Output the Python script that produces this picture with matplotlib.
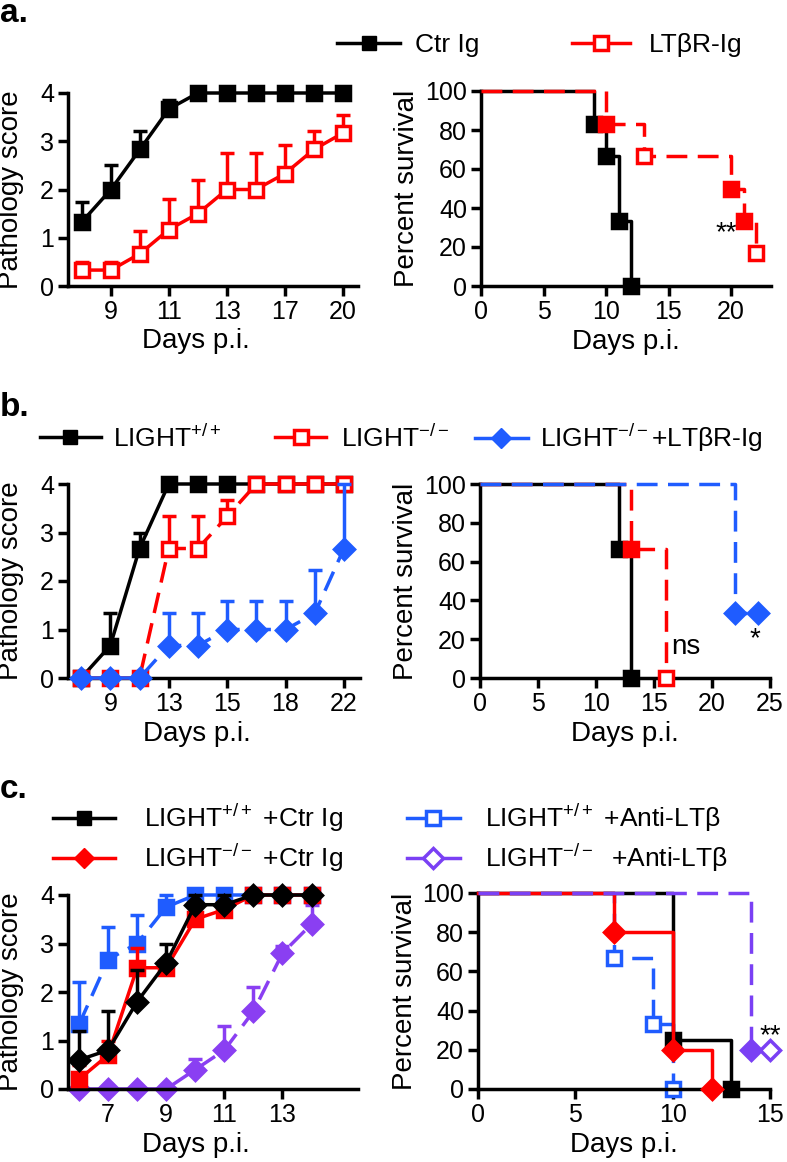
import numpy as np
import matplotlib
matplotlib.use("Agg")
import matplotlib.pyplot as plt
from matplotlib.lines import Line2D

plt.rcParams['font.family'] = ['Liberation Sans', 'DejaVu Sans']
plt.rcParams['mathtext.fontset'] = 'custom'
plt.rcParams['mathtext.rm'] = 'Liberation Sans'
plt.rcParams['mathtext.it'] = 'Liberation Sans:italic'
plt.rcParams['mathtext.bf'] = 'Liberation Sans:bold'

BLACK = 'black'
RED = '#ff0000'
BLUE = '#1f5cff'
PURPLE = '#8a3ff2'
PURPLE_KM = '#7a40f4'
DASH = (0, (6, 3))
LW = 2.5
MS = 10

# ---- panel a ----
a_days = [8, 9, 10, 11, 12, 13, 15, 17, 18, 20]
a_tick_days = [9, 11, 13, 17, 20]
a_ctr = [1.33, 2.0, 2.83, 3.67, 4, 4, 4, 4, 4, 4]
a_ctr_err = [1.75, 2.5, 3.22, 3.85, np.nan, np.nan, np.nan, np.nan, np.nan, np.nan]
a_ltb = [0.33, 0.33, 0.67, 1.17, 1.5, 2.0, 2.0, 2.33, 2.83, 3.17]
a_ltb_err = [0.5, 0.5, 1.13, 1.8, 2.2, 2.75, 2.75, 2.92, 3.22, 3.55]

a_surv_ctr_t = [0, 9, 10, 11, 12]
a_surv_ctr = [100, 83.3, 66.7, 33.3, 0]
a_surv_ltb_t = [0, 10, 13, 20, 21, 22]
a_surv_ltb = [100, 83.3, 66.7, 50, 33.3, 16.7]

# ---- panel b ----
b_days = [7, 9, 11, 13, 14, 15, 16, 18, 20, 22]
b_tick_days = [9, 13, 15, 18, 22]
b_wt = [0, 0.67, 2.67, 4, 4, 4, 4, 4, 4, 4]
b_wt_err = [np.nan, 1.33, 3.0, np.nan, np.nan, np.nan, np.nan, np.nan, np.nan, np.nan]
b_ko = [0, 0, 0, 2.67, 2.67, 3.33, 4, 4, 4, 4]
b_ko_err = [np.nan, np.nan, np.nan, 3.33, 3.33, 3.67, np.nan, np.nan, np.nan, np.nan]
b_koltb = [0, 0, 0, 0.67, 0.67, 1.0, 1.0, 1.0, 1.33, 2.67]
b_koltb_err = [np.nan, np.nan, np.nan, 1.33, 1.33, 1.58, 1.58, 1.58, 2.22, 4.0]

b_surv_wt_t = [0, 12, 13]
b_surv_wt = [100, 66.7, 0]
b_surv_ko_t = [0, 13, 16]
b_surv_ko = [100, 66.7, 0]
b_surv_koltb_t = [0, 22, 24]
b_surv_koltb = [100, 33.3, 33.3]

# ---- panel c ----
c_days = [6, 7, 8, 9, 10, 11, 12, 13, 14]
c_wt_ctr = [0.6, 0.8, 1.8, 2.6, 3.8, 3.8, 4, 4, 4]
c_wt_ctr_err = [1.2, 1.6, 2.45, 3.0, 4.0, 4.0, np.nan, np.nan, np.nan]
c_ko_ctr = [0.2, 0.7, 2.5, 2.5, 3.5, 3.7, 4, 4, 4]
c_ko_ctr_err = [0.5, 1.0, 2.9, np.nan, 3.6, 3.8, np.nan, np.nan, np.nan]
c_wt_alt = [1.33, 2.67, 3.0, 3.75, 4, 4, 4, 4, 4]
c_wt_alt_err = [2.2, 3.33, 3.58, 4.0, np.nan, np.nan, np.nan, np.nan, np.nan]
c_ko_alt = [0, 0, 0, 0, 0.4, 0.8, 1.6, 2.8, 3.4]
c_ko_alt_err = [np.nan, np.nan, np.nan, np.nan, 0.62, 1.3, 2.1, 2.95, 3.8]

c_surv_wt_ctr_t = [0, 10, 13]
c_surv_wt_ctr = [100, 25, 0]
c_surv_ko_ctr_t = [0, 7, 10, 12]
c_surv_ko_ctr = [100, 80, 20, 0]
c_surv_wt_alt_t = [0, 7, 9, 10]
c_surv_wt_alt = [100, 66.7, 33.3, 0]
c_surv_ko_alt_t = [0, 14, 15]
c_surv_ko_alt = [100, 20, 20]


def style(ax):
    for s in ['top', 'right']:
        ax.spines[s].set_visible(False)
    for s in ['left', 'bottom']:
        ax.spines[s].set_linewidth(LW)
    ax.tick_params(width=LW, length=7, labelsize=18, direction='out', pad=3)


def score_line(ax, x, y, err, color, marker, mfc, ls='-', z=2):
    x = np.asarray(x, float)
    y = np.asarray(y, float)
    err = np.asarray(err, float)
    has = ~np.isnan(err)
    ax.errorbar(x[has], y[has], yerr=[np.zeros(has.sum()), err[has] - y[has]],
                fmt='none', ecolor=color, elinewidth=LW, capsize=5, capthick=LW,
                zorder=z, clip_on=False)
    ax.plot(x, y, color=color, lw=LW, ls=ls, marker=marker, ms=MS, mfc=mfc,
            mec=color, mew=LW, zorder=z + 0.5, clip_on=False)


def km(ax, t, s, color, marker, mfcs, ls='-', z=2):
    ax.step(t, s, where='post', color=color, lw=LW, ls=ls, zorder=z, clip_on=False)
    for ti, si, fc in zip(t[1:], s[1:], mfcs):
        ax.plot(ti, si, ls='none', marker=marker, ms=MS, mfc=fc, mec=color,
                mew=LW, zorder=z + 0.5, clip_on=False)


def score_axes(ax):
    style(ax)
    ax.set_ylim(0, 4)
    ax.set_yticks([0, 1, 2, 3, 4])
    ax.set_ylabel('Pathology score', fontsize=20)
    ax.yaxis.set_label_coords(-0.15, 0.5)
    ax.set_xlabel('Days p.i.', fontsize=20)
    ax.xaxis.set_label_coords(0.44, -0.22)


def surv_axes(ax, xmax, step, labx):
    style(ax)
    ax.set_ylim(0, 100)
    ax.set_yticks([0, 20, 40, 60, 80, 100])
    ax.set_xlim(0, xmax)
    ax.set_xticks(np.arange(0, xmax + 0.1, step))
    ax.set_ylabel('Percent survival', fontsize=20)
    ax.yaxis.set_label_coords(labx, 0.5)
    ax.set_xlabel('Days p.i.', fontsize=20)
    ax.xaxis.set_label_coords(0.5, -0.22)


fig = plt.figure(figsize=(7.87, 11.62), dpi=100)
W, H = 787, 1162


def add_ax(x0, x1, ytop, ybot):
    return fig.add_axes([x0 / W, 1 - ybot / H, (x1 - x0) / W, (ybot - ytop) / H])


def entry(handle, label, x, y, hl=2.3, pad=0.5):
    fig.legend([handle], [label], loc='center left', bbox_to_anchor=(x / W, 1 - y / H),
               frameon=False, fontsize=19, handlelength=hl, handletextpad=pad,
               borderpad=0, borderaxespad=0)


# ---------- a ----------
ax = add_ax(68, 358, 93, 286)
xa = np.arange(len(a_days))
score_line(ax, xa, a_ltb, a_ltb_err, RED, 's', 'white', z=2)
score_line(ax, xa, a_ctr, a_ctr_err, BLACK, 's', BLACK, z=3)
ax.set_xlim(-0.48, 9.52)
ax.set_xticks([a_days.index(d) for d in a_tick_days])
ax.set_xticklabels([str(d) for d in a_tick_days])
score_axes(ax)

ax = add_ax(481, 771, 91, 286)
km(ax, a_surv_ctr_t, a_surv_ctr, BLACK, 's', [BLACK] * 4, z=2)
km(ax, a_surv_ltb_t, a_surv_ltb, RED, 's', [RED, 'white', RED, RED, 'white'], ls=DASH, z=3)
surv_axes(ax, 23.2, 5, -0.21)
ax.set_xticks([0, 5, 10, 15, 20])
ax.text(19.6, 27, '**', fontsize=20, ha='center', va='center')

entry(Line2D([], [], color=BLACK, lw=LW, marker='s', ms=MS, mfc=BLACK, mec=BLACK),
      'Ctr Ig', 337, 45, hl=2.4, pad=0.55)
entry(Line2D([], [], color=RED, lw=LW, marker='s', ms=MS, mfc='white', mec=RED, mew=LW),
      'LTβR-Ig', 572, 45, hl=2.2, pad=0.7)
fig.text(0.0, 1 - 14 / H, 'a.', fontsize=24, fontweight='bold', va='center')

# ---------- b ----------
ax = add_ax(68, 360, 484, 678)
xb = np.arange(len(b_days))
score_line(ax, xb, b_wt, b_wt_err, BLACK, 's', BLACK, z=2)
score_line(ax, xb, b_ko, b_ko_err, RED, 's', 'white', ls=DASH, z=3)
score_line(ax, xb, b_koltb, b_koltb_err, BLUE, 'D', BLUE, ls=DASH, z=4)
ax.set_xlim(-0.45, 9.55)
ax.set_xticks([b_days.index(d) for d in b_tick_days])
ax.set_xticklabels([str(d) for d in b_tick_days])
score_axes(ax)

ax = add_ax(480, 770, 484, 678)
km(ax, b_surv_wt_t, b_surv_wt, BLACK, 's', [BLACK] * 2, z=2)
km(ax, b_surv_ko_t, b_surv_ko, RED, 's', [RED, 'white'], ls=DASH, z=3)
km(ax, b_surv_koltb_t, b_surv_koltb, BLUE, 'D', [BLUE, BLUE], ls=DASH, z=4)
surv_axes(ax, 25, 5, -0.21)
ax.text(16.5, 16, 'ns', fontsize=20, ha='left', va='center')
ax.text(23.7, 20, '*', fontsize=20, ha='center', va='center')

entry(Line2D([], [], color=BLACK, lw=LW, marker='s', ms=MS, mfc=BLACK, mec=BLACK),
      r'LIGHT$^{+/+}$', 40, 438, hl=2.3, pad=0.45)
entry(Line2D([], [], color=RED, lw=LW, marker='s', ms=MS, mfc='white', mec=RED, mew=LW),
      r'LIGHT$^{-/-}$', 275, 438, hl=1.95, pad=0.55)
entry(Line2D([], [], color=BLUE, lw=LW, marker='D', ms=MS, mfc=BLUE, mec=BLUE),
      r'LIGHT$^{-/-}$+LTβR-Ig', 475, 438, hl=2.0, pad=0.45)
fig.text(0.0, 1 - 408 / H, 'b.', fontsize=24, fontweight='bold', va='center')

# ---------- c ----------
ax = add_ax(68, 358, 895, 1089)
score_line(ax, c_days, c_ko_alt, c_ko_alt_err, PURPLE, 'D', PURPLE, ls=DASH, z=2)
score_line(ax, c_days, c_wt_alt, c_wt_alt_err, BLUE, 's', BLUE, ls=DASH, z=3)
score_line(ax, c_days, c_ko_ctr, c_ko_ctr_err, RED, 's', RED, z=4)
score_line(ax, c_days, c_wt_ctr, c_wt_ctr_err, BLACK, 'D', BLACK, z=5)
ax.set_xlim(5.62, 15.6)
ax.set_xticks([7, 9, 11, 13])
score_axes(ax)

ax = add_ax(478, 770, 893, 1089)
km(ax, c_surv_wt_ctr_t, c_surv_wt_ctr, BLACK, 's', [BLACK] * 2, z=3)
km(ax, c_surv_ko_ctr_t, c_surv_ko_ctr, RED, 'D', [RED] * 3, z=4)
km(ax, c_surv_wt_alt_t, c_surv_wt_alt, BLUE, 's', ['white'] * 3, ls=DASH, z=2)
km(ax, c_surv_ko_alt_t, c_surv_ko_alt, PURPLE_KM, 'D', [PURPLE_KM, 'white'], ls=DASH, z=5)
surv_axes(ax, 15, 5, -0.205)
ax.text(15.0, 27, '**', fontsize=20, ha='center', va='center')

entry(Line2D([], [], color=BLACK, lw=LW, marker='s', ms=MS, mfc=BLACK, mec=BLACK),
      r'LIGHT$^{+/+}$ +Ctr Ig', 53, 818, hl=2.35, pad=1.1)
entry(Line2D([], [], color=RED, lw=LW, marker='D', ms=MS, mfc=RED, mec=RED),
      r'LIGHT$^{-/-}$ +Ctr Ig', 53, 858, hl=2.35, pad=1.1)
entry(Line2D([], [], color=BLUE, lw=LW, marker='s', ms=MS, mfc='white', mec=BLUE, mew=LW),
      r'LIGHT$^{+/+}$ +Anti-LTβ', 407, 818, hl=2.0, pad=0.95)
entry(Line2D([], [], color=PURPLE_KM, lw=LW, marker='D', ms=MS, mfc='white', mec=PURPLE_KM, mew=LW),
      r'LIGHT$^{-/-}$  +Anti-LTβ', 407, 858, hl=2.0, pad=0.95)
fig.text(0.0, 1 - 790 / H, 'c.', fontsize=24, fontweight='bold', va='center')

fig.savefig('out.png', dpi=100)
